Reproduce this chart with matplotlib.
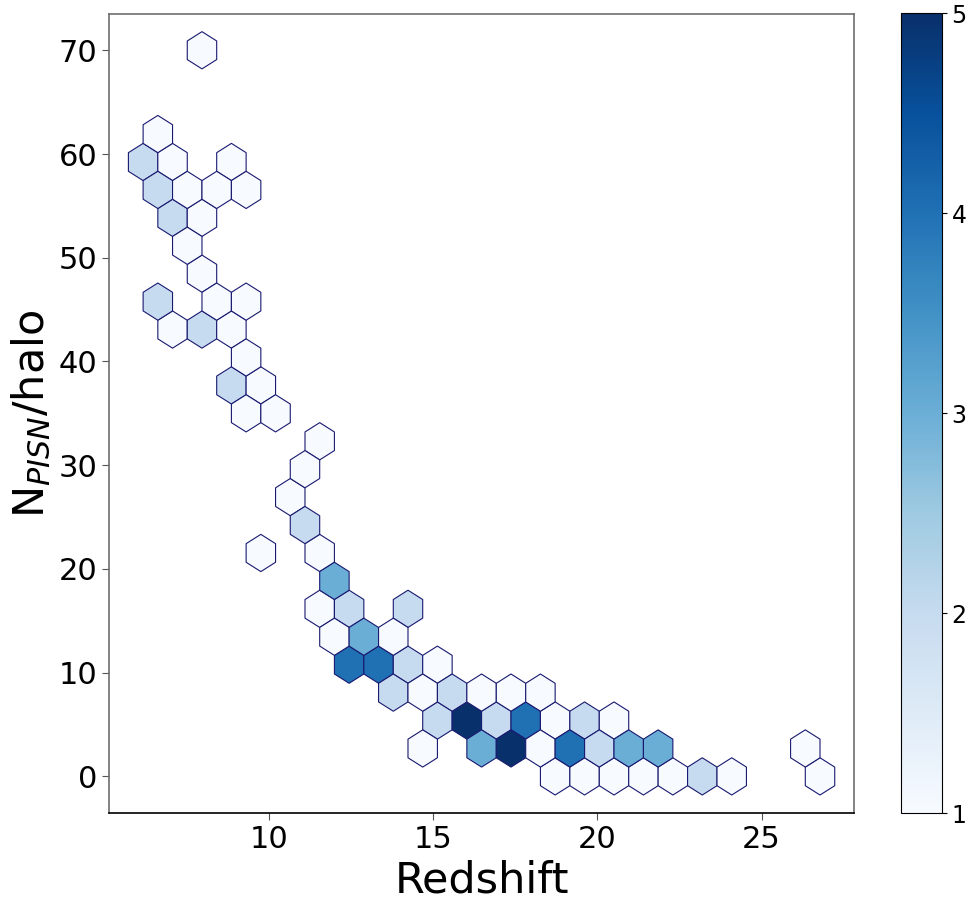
"""Hexbin of PISN count per halo against redshift."""
import numpy as np
from matplotlib.figure import Figure
from matplotlib.backends.backend_agg import FigureCanvasAgg

# cell centres (redshift, N_PISN/halo) and halo counts per cell
redshift = [
    7.95,
    6.61,
    6.16, 7.06, 8.85,
    6.61, 7.50, 8.40, 9.30,
    7.06, 7.95,
    7.50,
    7.95,
    6.61, 8.40, 9.30,
    7.06, 7.95, 8.85,
    9.30,
    8.85, 9.75,
    9.30, 10.19,
    11.54,
    11.09,
    10.64,
    11.09,
    9.75, 11.54,
    11.99,
    11.54, 12.44, 14.23,
    11.99, 12.88, 13.78,
    12.44, 13.33, 14.23, 15.13,
    13.78, 14.68, 15.57, 16.47, 17.37, 18.26,
    15.13, 16.02, 16.92, 17.81, 18.71, 19.61, 20.50,
    14.68, 16.47, 17.37, 18.26, 19.16, 20.06, 20.95, 21.85, 26.33,
    18.71, 19.61, 20.50, 21.40, 22.30, 23.19, 24.09, 26.78,
]
n_pisn = [
    70.00,
    61.92,
    59.23, 59.23, 59.23,
    56.54, 56.54, 56.54, 56.54,
    53.85, 53.85,
    51.15,
    48.46,
    45.77, 45.77, 45.77,
    43.08, 43.08, 43.08,
    40.38,
    37.69, 37.69,
    35.00, 35.00,
    32.31,
    29.62,
    26.92,
    24.23,
    21.54, 21.54,
    18.85,
    16.15, 16.15, 16.15,
    13.46, 13.46, 13.46,
    10.77, 10.77, 10.77, 10.77,
    8.08, 8.08, 8.08, 8.08, 8.08, 8.08,
    5.38, 5.38, 5.38, 5.38, 5.38, 5.38, 5.38,
    2.69, 2.69, 2.69, 2.69, 2.69, 2.69, 2.69, 2.69, 2.69,
    0.00, 0.00, 0.00, 0.00, 0.00, 0.00, 0.00, 0.00,
]
n_halo = [
    1,
    1,
    2, 1, 1,
    2, 1, 1, 1,
    2, 1,
    1,
    1,
    2, 1, 1,
    1, 2, 1,
    1,
    2, 1,
    1, 1,
    1,
    1,
    1,
    2,
    1, 1,
    3,
    1, 2, 2,
    1, 3, 1,
    4, 4, 2, 1,
    2, 1, 2, 1, 1, 1,
    2, 5, 2, 4, 1, 2, 1,
    1, 3, 5, 1, 4, 2, 3, 3, 1,
    1, 1, 1, 1, 1, 2, 1, 1,
]

fig = Figure(figsize=(9.67, 9.01), dpi=100)
FigureCanvasAgg(fig)
ax = fig.add_axes([0.113, 0.098, 0.770, 0.8865])
cax = fig.add_axes([0.9314, 0.0973, 0.0424, 0.888])

hb = ax.hexbin(redshift, n_pisn, C=n_halo, reduce_C_function=np.sum,
               gridsize=(23, 13), cmap="Blues", vmin=1, vmax=5,
               edgecolors="midnightblue", linewidths=0.8)

ax.set_xticks([10, 15, 20, 25])
ax.set_yticks([0, 10, 20, 30, 40, 50, 60, 70])
ax.tick_params(labelsize=22, length=5, color="#555555")
ax.set_xlabel("Redshift", fontsize=31)
ax.set_ylabel(r"N$_{PISN}$/halo", fontsize=31)
for side in ("left", "top", "right"):
    ax.spines[side].set_color("#6e6e6e")
    ax.spines[side].set_linewidth(1.2)
ax.spines["bottom"].set_color("black")
ax.spines["bottom"].set_linewidth(1.2)

cb = fig.colorbar(hb, cax=cax)
cb.set_ticks([1, 2, 3, 4, 5])
cb.ax.tick_params(labelsize=17)

fig.savefig("out.png", dpi=100)
